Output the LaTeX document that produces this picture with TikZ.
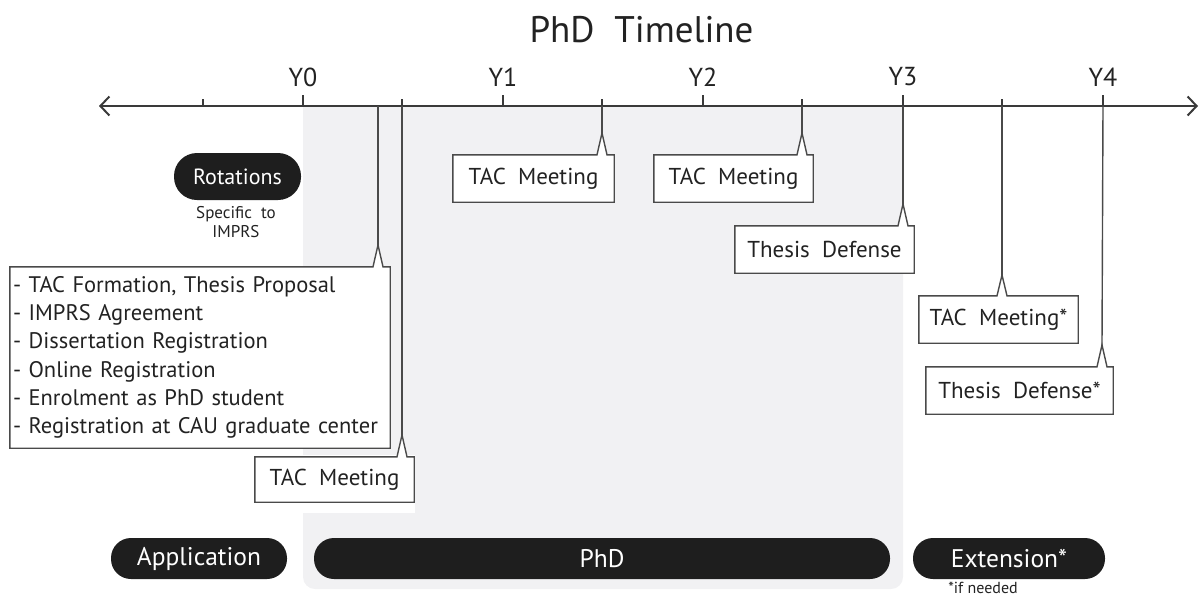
\documentclass[tikz,border=0pt]{standalone}
\usepackage{fontspec}
\setmainfont{PT Sans}
\usetikzlibrary{arrows.meta,calc}
\definecolor{bggrey}{HTML}{F1F1F3}
\definecolor{linegrey}{HTML}{4A4A4A}
\definecolor{axisgrey}{HTML}{3A3A3A}
\definecolor{pillblack}{HTML}{1E1E1E}
\definecolor{txt}{HTML}{222222}
\pgfdeclarelayer{back}
\pgfdeclarelayer{mid}
\pgfsetlayers{back,mid,main}
\newcommand\mycallout[2]{%
  \begin{pgfonlayer}{mid}
  \draw[calloutline] (#1.north west) -- ($(#2 |- #1.north)+(-5,0)$) -- (#2)
    -- ($(#2 |- #1.north)+(5,0)$) -- (#1.north east) -- (#1.south east)
    -- (#1.south west) -- cycle;
  \end{pgfonlayer}}
\tikzset{
  calloutline/.style={draw=linegrey, line width=1.4pt, fill=white, line join=miter},
  cbox/.style={inner sep=0pt, text=txt, font=\fontsize{23}{28}\selectfont},
  pillbox/.style={fill=pillblack, text=white, inner sep=0pt, font=\fontsize{25.5}{28}\selectfont},
  vline/.style={draw=linegrey, line width=1.4pt},
  tickline/.style={draw=axisgrey, line width=1.8pt},
  yearlabel/.style={text=txt, font=\fontsize{26}{30}\selectfont, inner sep=0pt},
  small/.style={text=txt, inner sep=0pt, align=center},
}
\begin{document}
\begin{tikzpicture}[x=1pt,y=-1pt]
\useasboundingbox (0,0) rectangle (1203,598);

% grey PhD background
\begin{pgfonlayer}{back}
  \begin{scope}
    \clip (0,106) rectangle (1203,598);
    \fill[bggrey, rounded corners=12pt] (303,80) rectangle (903,589);
  \end{scope}
  \fill[white] (303,455) rectangle (415,513);
\end{pgfonlayer}

% title
\node[text=txt, font=\fontsize{37}{42}\selectfont, inner sep=0pt] (title) at (641.5,30) {PhD\ \ Timeline};

% axis
\coordinate (axl) at (99,106);
\coordinate (axr) at (1198,106);
\draw[draw=axisgrey, line width=2.2pt, {Straight Barb[length=9pt,width=19pt,line width=2pt]}-{Straight Barb[length=9pt,width=19pt,line width=2pt]}] (axl) -- (axr);

% axis points
\coordinate (m0) at (203,106);
\coordinate (y0) at (303,106);
\coordinate (p1) at (378,106);
\coordinate (m1) at (402,106);
\coordinate (y1) at (503,106);
\coordinate (m2) at (602,106);
\coordinate (y2) at (703,106);
\coordinate (m3) at (802,106);
\coordinate (y3) at (903,106);
\coordinate (m4) at (1002,106);
\coordinate (y4) at (1103,106);

\foreach \c in {m0,m1,m2,m3,m4} \draw[tickline] (\c) -- ++(0,-7);
\foreach \c in {y0,y1,y2,y3,y4} \draw[tickline] (\c) -- ++(0,-11);

\node[yearlabel] (ly0) at (303,77) {Y0};
\node[yearlabel] (ly1) at (503,77) {Y1};
\node[yearlabel] (ly2) at (703,77) {Y2};
\node[yearlabel] (ly3) at (903,77) {Y3};
\node[yearlabel] (ly4) at (1103,77) {Y4};

% apex points
\coordinate (a1) at (378,245);
\coordinate (a2) at (402,435);
\coordinate (a3) at (602,133);
\coordinate (a4) at (802,133);
\coordinate (a5) at (903,204);
\coordinate (a6) at (1002,275);
\coordinate (a7) at (1102,345);

\draw[vline] (p1) -- (a1);
\draw[vline] (m1) -- (a2);
\draw[vline] (m2) -- (a3);
\draw[vline] (m3) -- (a4);
\draw[vline] (y3) -- (a5);
\draw[vline] (m4) -- (a6);
\draw[vline] (y4) -- (a7);

% callout boxes
\node[cbox, font=\fontsize{22.5}{28.3}\selectfont, minimum width=380pt, minimum height=181pt, text width=374pt, align=left] (b1) at (200,357.5)
  {- TAC Formation, Thesis Proposal\\
   - IMPRS Agreement\\
   - Dissertation Registration\\
   - Online Registration\\
   - Enrolment as PhD student\\
   - Registration at CAU graduate center};
\mycallout{b1}{a1}

\node[cbox, minimum width=159pt, minimum height=45pt] (b2) at (334.5,479.5) {TAC\ \ Meeting};
\mycallout{b2}{a2}

\node[cbox, minimum width=161pt, minimum height=47pt] (b3) at (533.5,178.5) {TAC\ \ Meeting};
\mycallout{b3}{a3}

\node[cbox, minimum width=159pt, minimum height=47pt] (b4) at (733.5,178.5) {TAC\ \ Meeting};
\mycallout{b4}{a4}

\node[cbox, minimum width=179pt, minimum height=47pt] (b5) at (824.5,249.5) {Thesis\ \ Defense};
\mycallout{b5}{a5}

\node[cbox, minimum width=159pt, minimum height=47pt] (b6) at (998.5,319.5) {TAC\ \ Meeting*};
\mycallout{b6}{a6}

\node[cbox, minimum width=187pt, minimum height=47pt] (b7) at (1019.5,390.5) {Thesis\ \ Defense*};
\mycallout{b7}{a7}

% pills
\node[pillbox, rounded corners=23pt, minimum width=127pt, minimum height=47pt, font=\fontsize{22}{26}\selectfont] (rot) at (237.5,176.5) {Rotations};
\node[small, font=\fontsize{17}{19}\selectfont] (spec) at (236,222) {Specific\ \ to\\IMPRS};

\node[pillbox, rounded corners=20pt, minimum width=176pt, minimum height=41pt] (app) at (199,558.5) {Application};
\node[pillbox, rounded corners=20pt, minimum width=576pt, minimum height=41pt] (phd) at (602,558.5) {PhD};
\node[pillbox, rounded corners=20pt, minimum width=192pt, minimum height=41pt] (ext) at (1009,558.5) {Extension*};
\node[small, font=\fontsize{16}{17}\selectfont] (ifn) at (983,588) {*if needed};
\end{tikzpicture}
\end{document}
